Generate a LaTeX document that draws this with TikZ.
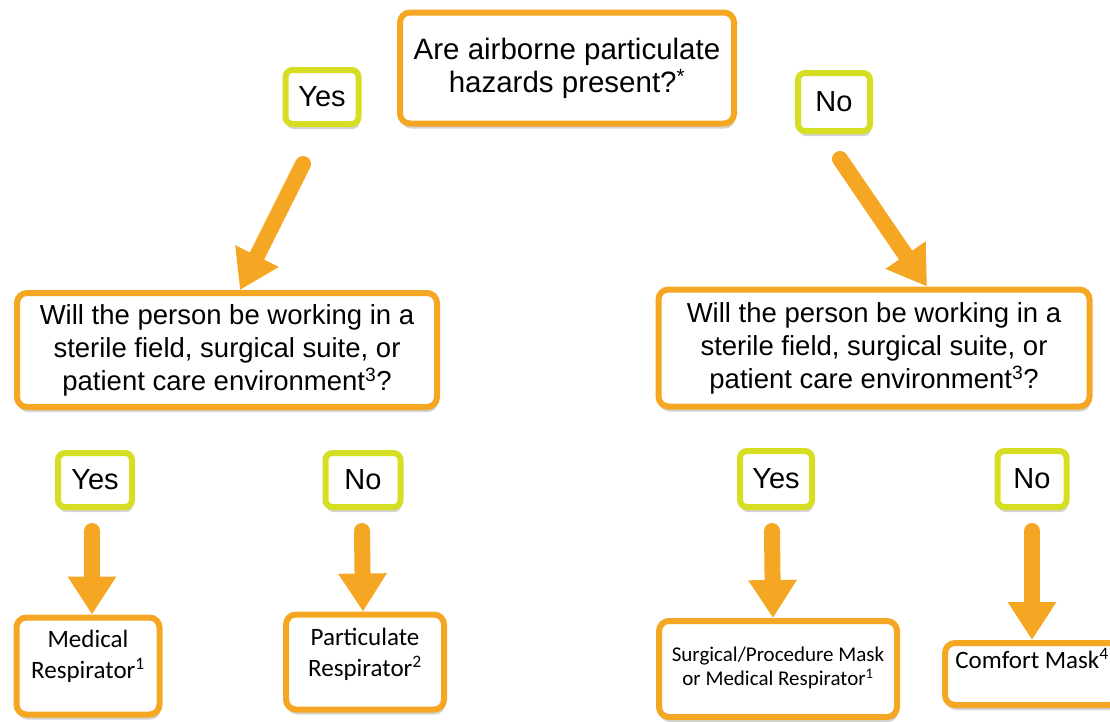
\documentclass[tikz,border=0pt]{standalone}
\usepackage{fontspec}
\setmainfont{Liberation Sans}
\newfontfamily\calibri{Carlito}
\usetikzlibrary{arrows.meta, shadows}
\definecolor{boxorange}{RGB}{245,166,35}
\definecolor{boxlime}{RGB}{214,222,35}
% text block lifted inside a box of fixed size
\newcommand{\liftedtext}[2]{\raisebox{#1}[0pt][0pt]{\begin{tabular}{@{}c@{}}#2\end{tabular}}}

\begin{document}
\begin{tikzpicture}[x=1pt, y=-1pt, >=Stealth,
    qbox/.style={draw=boxorange, line width=6pt, rounded corners=10pt, fill=white, align=center,
        drop shadow={opacity=0.35, shadow xshift=1pt, shadow yshift=-5pt}},
    ansbox/.style={draw=boxlime, line width=6pt, rounded corners=7pt, fill=white,
        font=\fontsize{29}{32}\selectfont,
        drop shadow={opacity=0.35, shadow xshift=1pt, shadow yshift=-5pt}},
    resbox/.style={qbox, font=\calibri\fontsize{25}{31}\selectfont},
    flowarrow/.style={draw=boxorange, line width=16pt, line cap=round, -{Triangle[width=46pt, length=38pt]}, fill=boxorange}]

    \useasboundingbox (0,0) rectangle (1110,721);

    % first question
    \node[qbox, minimum width=334pt, minimum height=111pt, font=\fontsize{29.5}{33}\selectfont] (airborne) at (567,68)
        {Are airborne particulate\\hazards present?\textsuperscript{*}};
    \node[ansbox, minimum width=73pt, minimum height=54pt] (yesTop) at (322,97) {Yes};
    \node[ansbox, minimum width=72pt, minimum height=58pt] (noTop) at (834,102) {No};

    % second questions
    \node[qbox, minimum width=420pt, minimum height=114pt, font=\fontsize{27.5}{33}\selectfont] (sterileL) at (227,350)
        {Will the person be working in a\\sterile field, surgical suite, or\\patient care environment\textsuperscript{3}?};
    \node[qbox, minimum width=431pt, minimum height=117pt, font=\fontsize{27.5}{33}\selectfont] (sterileR) at (874,348)
        {Will the person be working in a\\sterile field, surgical suite, or\\patient care environment\textsuperscript{3}?};

    % answers
    \node[ansbox, minimum width=74pt, minimum height=54pt] (yesL) at (95,480) {Yes};
    \node[ansbox, minimum width=75pt, minimum height=54pt] (noL) at (363,480) {No};
    \node[ansbox, minimum width=72pt, minimum height=56pt] (yesR) at (776,479) {Yes};
    \node[ansbox, minimum width=69pt, minimum height=56pt] (noR) at (1032,479) {No};

    % results
    \node[resbox, minimum width=143pt, minimum height=97pt] (medResp) at (88,666)
        {\liftedtext{3pt}{Medical\\Respirator\textsuperscript{1}}};
    \node[resbox, minimum width=158pt, minimum height=95pt] (partResp) at (365,662)
        {\liftedtext{1pt}{Particulate\\Respirator\textsuperscript{2}}};
    \node[resbox, minimum width=238pt, minimum height=96pt, font=\calibri\fontsize{21}{24}\selectfont] (surgMask) at (778,669)
        {\liftedtext{-5pt}{Surgical/Procedure Mask\\or Medical Respirator\textsuperscript{1}}};
    \node[resbox, minimum width=174pt, minimum height=62pt] (comfMask) at (1032,674)
        {\liftedtext{5pt}{Comfort Mask\textsuperscript{4}}};

    % arrows
    \draw[flowarrow] ([xshift=-19pt, yshift=-37pt]yesTop.south) -- ([xshift=13pt]sterileL.north);
    \draw[flowarrow] ([xshift=6pt, yshift=-25pt]noTop.south) -- ([xshift=53pt]sterileR.north);
    \draw[flowarrow] ([xshift=-3pt, yshift=-21pt]yesL.south) -- ([xshift=4pt]medResp.north);
    \draw[flowarrow] ([xshift=-1pt, yshift=-21pt]noL.south) -- ([xshift=-2pt]partResp.north);
    \draw[flowarrow] ([xshift=-4pt, yshift=-21pt]yesR.south) -- ([xshift=-5pt]surgMask.north);
    \draw[flowarrow] ([yshift=-21pt]noR.south) -- (comfMask.north);

\end{tikzpicture}
\end{document}
